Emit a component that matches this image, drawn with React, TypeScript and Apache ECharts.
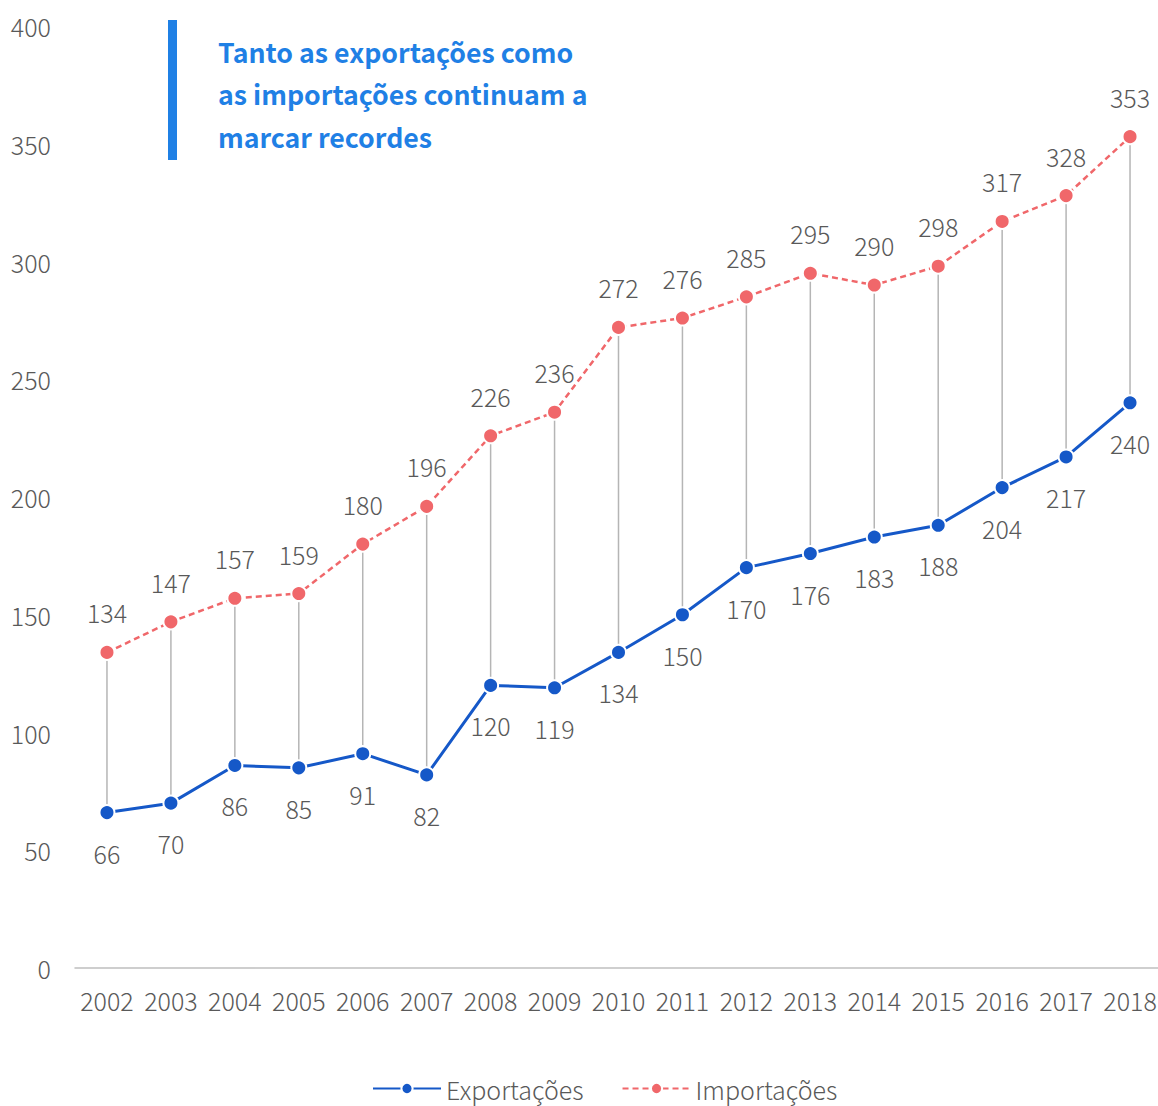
import React, { useEffect, useRef } from "react";
import * as echarts from "echarts";

const years = ["2002","2003","2004","2005","2006","2007","2008","2009","2010","2011","2012","2013","2014","2015","2016","2017","2018"];
const exportacoes = [66, 70, 86, 85, 91, 82, 120, 119, 134, 150, 170, 176, 183, 188, 204, 217, 240];
const importacoes = [134, 147, 157, 159, 180, 196, 226, 236, 272, 276, 285, 295, 290, 298, 317, 328, 353];
const titleLines = ["Tanto as exportações como", "as importações continuam a", "marcar recordes"];

const FONT = '"Noto Sans CJK JP", "Noto Sans", sans-serif';
const BLUE = "#1558c8";
const RED = "#f0676a";
const TXT = "#595959";

export default function App() {
  const ref = useRef<HTMLDivElement>(null);
  useEffect(() => {
    if (!ref.current) return;
    const chart = echarts.init(ref.current, undefined, { renderer: "svg" });
    const dropData = years.map((_, i) => [i, exportacoes[i], importacoes[i]]);
    chart.setOption({
      animation: false,
      textStyle: { fontFamily: FONT },
      grid: { left: 75, right: 0, top: 26, bottom: 138 },
      legend: {
        data: ["Exportações", "Importações"],
        bottom: 0,
        left: 367,
        itemWidth: 68,
        itemHeight: 14,
        itemGap: 38,
        textStyle: { color: TXT, fontSize: 25, fontWeight: 300, fontFamily: FONT },
      },
      xAxis: {
        type: "category",
        data: years,
        axisLine: { lineStyle: { color: "#bfbfbf", width: 1.5 } },
        axisTick: { show: false },
        axisLabel: { color: TXT, fontSize: 25, fontWeight: 300, margin: 19, interval: 0, fontFamily: FONT },
      },
      yAxis: {
        type: "value",
        min: 0,
        max: 400,
        interval: 50,
        splitLine: { show: false },
        axisLine: { show: false },
        axisTick: { show: false },
        axisLabel: { color: TXT, fontSize: 25, fontWeight: 300, margin: 24, fontFamily: FONT },
      },
      graphic: [
        { type: "rect", left: 168, top: 20, shape: { width: 9, height: 140 }, style: { fill: "#1f80e5" } },
        ...titleLines.map((t, i) => ({
          type: "text",
          left: 218,
          top: 38 + i * 42.5,
          style: { text: t, fill: "#1f80e5", font: `bold 26.7px ${FONT}` },
        })),
      ],
      series: [
        {
          type: "custom",
          name: "drop",
          data: dropData,
          z: 1,
          silent: true,
          renderItem: (params: any, api: any) => {
            const p1 = api.coord([api.value(0), api.value(1)]);
            const p2 = api.coord([api.value(0), api.value(2)]);
            return {
              type: "line",
              shape: { x1: p1[0], y1: p1[1], x2: p2[0], y2: p2[1] },
              style: { stroke: "#b5b5b5", lineWidth: 1.5 },
            };
          },
        },
        {
          type: "line",
          name: "Exportações",
          data: exportacoes,
          z: 3,
          symbol: "circle",
          symbolSize: 15,
          lineStyle: { color: BLUE, width: 3 },
          itemStyle: { color: BLUE, borderColor: "#fff", borderWidth: 2 },
          label: { show: true, position: "bottom", distance: 19, color: TXT, fontSize: 25, fontWeight: 300, fontFamily: FONT },
        },
        {
          type: "line",
          name: "Importações",
          data: importacoes,
          z: 3,
          symbol: "circle",
          symbolSize: 15,
          lineStyle: { color: RED, width: 2.5, type: [6, 4] },
          itemStyle: { color: RED, borderColor: "#fff", borderWidth: 2 },
          label: { show: true, position: "top", distance: 19, color: TXT, fontSize: 25, fontWeight: 300, fontFamily: FONT },
        },
      ],
    });
    return () => chart.dispose();
  }, []);
  return (
    <div style={{ position: "absolute", left: 0, top: 0, width: 1158, height: 1106, overflow: "hidden" }}>
      <div ref={ref} style={{ width: 1162, height: 1106 }} />
    </div>
  );
}
